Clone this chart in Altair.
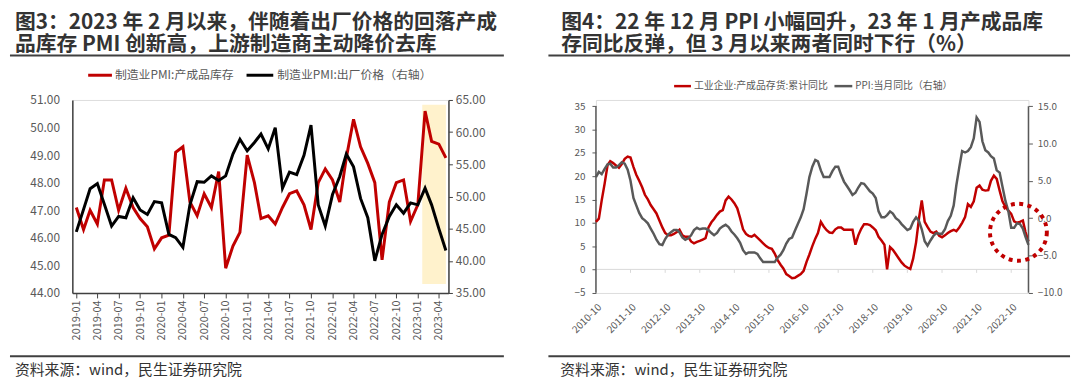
import altair as alt
import pandas as pd

FONT = "Noto Sans CJK SC"
RED = "#C00000"
LBL = "#595959"
DARK = "#333333"
AXC = "#404040"

# ---------------- Figure 3 data (monthly 2019-01 .. 2023-05) ----------------
left_dates = pd.date_range("2019-01-01", periods=53, freq="MS").strftime("%Y-%m-%dT00:00:00").tolist()
pmi_inventory = [47.1, 46.3, 47.0, 46.5, 48.1, 48.1, 47.0, 47.8, 47.1, 46.7, 46.4, 45.6,
                 46.0, 46.1, 49.1, 49.3, 47.3, 46.8, 47.6, 47.1, 48.4, 44.9, 45.7, 46.2,
                 49.0, 48.0, 46.7, 46.8, 46.5, 47.1, 47.6, 47.7, 47.2, 46.3, 48.0, 48.5,
                 48.1, 47.3, 48.9, 50.3, 49.3, 48.7, 48.0, 45.2, 47.3, 48.0, 48.1, 46.6,
                 47.2, 50.6, 49.5, 49.4, 48.9]
pmi_price = [44.5, 48.0, 51.2, 52.0, 48.8, 45.4, 46.9, 46.7, 49.8, 47.9, 47.2, 49.2,
             49.0, 44.1, 43.6, 42.1, 48.7, 52.3, 52.2, 53.2, 52.5, 53.2, 56.6, 58.9,
             57.1, 58.4, 59.7, 57.4, 60.7, 51.3, 53.8, 53.4, 56.4, 61.1, 48.7, 45.4,
             50.3, 53.1, 56.6, 54.6, 49.7, 46.7, 40.0, 44.1, 46.9, 48.7, 47.4, 49.0,
             48.7, 51.3, 48.7, 45.0, 41.6]
left_ticks = ["2019-01", "2019-04", "2019-07", "2019-10", "2020-01", "2020-04", "2020-07",
              "2020-10", "2021-01", "2021-04", "2021-07", "2021-10", "2022-01", "2022-04",
              "2022-07", "2022-10", "2023-01", "2023-04"]
shade_start = ["2023-01-20T00:00:00"]
shade_end = ["2023-05-01T00:00:00"]
shade_top = [50.83]
shade_bottom = [44.33]
left_y_vals = [44, 45, 46, 47, 48, 49, 50, 51]
right_y_vals = [35, 40, 45, 50, 55, 60, 65]

# ---------------- Figure 4 data (monthly 2010-10 .. 2023-04) ----------------
right_dates = pd.date_range("2010-10-01", periods=151, freq="MS").strftime("%Y-%m-%dT00:00:00").tolist()
inventory_yoy = [10.2, 10.9, 14.8,
                 18.4, 22.4, 23.2, 22.8, 22.3, 21.8, 22.6, 23.7, 24.2, 24.0, 22.0, 20.3,
                 19.0, 17.6, 16.0, 15.0, 13.8, 12.9, 12.0, 10.5, 9.0, 7.8, 7.3, 7.3,
                 7.6, 8.0, 8.5, 7.3, 7.0, 7.0, 6.0, 5.6, 5.9, 6.1, 6.4, 6.7,
                 9.0, 10.1, 10.8, 11.7, 12.4, 12.7, 14.8, 15.6, 15.0, 14.2, 13.1, 11.0,
                 8.6, 7.6, 7.2, 7.0, 7.4, 6.8, 6.2, 5.6, 5.0, 4.6, 4.4, 3.4,
                 2.0, 1.0, 0.2, -1.0, -1.4, -1.9, -1.8, -1.4, -1.0, -0.3, 1.6, 3.2,
                 5.0, 6.6, 7.8, 10.2, 9.2, 8.4, 7.9, 7.8, 8.6, 9.0, 9.0, 8.5,
                 8.5, 8.5, 8.5, 5.3, 7.3, 8.7, 9.7, 9.7, 9.5, 9.0, 8.4, 7.0,
                 6.2, 5.3, 0.0, 4.8, 4.2, 3.3, 2.4, 1.5, 0.8, 0.4, 0.1, 2.3,
                 5.8, 11.0, 14.8, 10.2, 9.1, 8.1, 7.8, 8.1, 7.2, 6.9, 7.3, 7.8,
                 8.2, 8.5, 8.2, 9.0, 10.0, 11.2, 14.0, 13.4, 14.6, 17.5, 18.0, 17.1,
                 16.9, 17.0, 19.0, 20.1, 19.4, 16.9, 14.6, 13.4, 12.6, 11.9, 10.3, 10.0,
                 10.2, 10.5, 8.0, 6.0]
ppi_yoy = [5.5, 6.2, 5.9,
           6.6, 7.2, 7.3, 6.8, 6.8, 7.1, 7.5, 7.3, 6.5, 5.0, 2.7, 1.7,
           0.7, 0.0, -0.3, -0.7, -1.4, -2.1, -2.9, -3.5, -3.6, -2.8, -2.2, -1.9,
           -1.6, -1.6, -1.9, -2.6, -2.9, -2.7, -2.3, -1.6, -1.3, -1.5, -1.4, -1.4,
           -1.6, -2.0, -2.3, -2.0, -1.4, -1.1, -0.9, -1.2, -1.8, -2.2, -2.7, -3.3,
           -4.3, -4.8, -4.6, -4.6, -4.6, -4.8, -5.4, -5.9, -5.9, -5.9, -5.9, -5.9,
           -5.3, -4.9, -4.3, -3.4, -2.8, -2.6, -1.7, -0.8, 0.1, 1.2, 3.3, 5.5,
           6.9, 7.8, 7.6, 6.4, 5.5, 5.5, 5.5, 6.3, 6.9, 6.9, 5.8, 4.9,
           4.3, 3.7, 3.1, 3.4, 4.1, 4.7, 4.6, 4.1, 3.6, 3.3, 2.7, 0.9,
           0.1, 0.1, 0.4, 0.9, 0.6, 0.0, -0.3, -0.8, -1.2, -1.6, -1.4, -0.5,
           0.1, -0.4, -1.5, -3.1, -3.7, -3.0, -2.4, -2.0, -2.1, -2.1, -1.5, -0.4,
           0.3, 1.7, 4.4, 6.8, 9.0, 8.8, 9.0, 9.5, 10.7, 13.5, 12.9, 10.3,
           9.1, 8.8, 8.3, 8.0, 6.4, 6.1, 4.2, 2.3, 0.9, -1.3, -1.3, -0.7,
           -0.8, -1.4, -2.5, -3.6]
right_ticks = ["2010-10", "2011-10", "2012-10", "2013-10", "2014-10", "2015-10", "2016-10",
               "2017-10", "2018-10", "2019-10", "2020-10", "2021-10", "2022-10"]
r_left_vals = [-5, 0, 5, 10, 15, 20, 25, 30, 35]
r_right_vals = [-10, -5, 0, 5, 10, 15]
circle_date = ["2022-12-16T00:00:00"]
circle_val = [-1.9]

title3 = ["图3：2023 年 2 月以来，伴随着出厂价格的回落产成", "品库存 PMI 创新高，上游制造商主动降价去库"]
title4 = ["图4：22 年 12 月 PPI 小幅回升，23 年 1 月产成品库", "存同比反弹，但 3 月以来两者同时下行（%）"]
legend3 = ["制造业PMI:产成品库存", "制造业PMI:出厂价格（右轴）"]
legend4 = ["工业企业:产成品存货:累计同比", "PPI:当月同比（右轴）"]
source = "资料来源：wind，民生证券研究院"


def dt(s):
    return alt.DateTime(year=int(s[:4]), month=int(s[5:7]), date=1)


def text_mark(txt, x, y, size, color, weight="normal", baseline="alphabetic"):
    return alt.Chart(pd.DataFrame({"t": [txt]})).mark_text(
        align="left", baseline=baseline, fontSize=size, font=FONT,
        fontWeight=weight, color=color
    ).encode(x=alt.value(x), y=alt.value(y), text="t:N")


def hrule(x1, x2, y, color, width):
    return alt.Chart(pd.DataFrame({"k": [0]})).mark_rule(
        color=color, strokeWidth=width
    ).encode(x=alt.value(x1), x2=alt.value(x2), y=alt.value(y))


# ======================= LEFT PANEL =======================
W1, H = 380, 195
dl = pd.DataFrame({"date": left_dates, "inv": pmi_inventory, "price": pmi_price})

xl_scale = alt.Scale(domain=[alt.DateTime(year=2018, month=12, date=15),
                             alt.DateTime(year=2023, month=5, date=12)])
xl_axis = alt.Axis(values=[dt(s) for s in left_ticks], format="%Y-%m", labelAngle=270,
                   labelAlign="right", labelBaseline="middle", labelFontSize=11,
                   labelColor=LBL, labelFont=FONT, tickSize=5, tickColor=AXC,
                   domainColor=AXC, domainWidth=1.5, labelPadding=2, grid=False,
                   title=None, labelOverlap=False)
yl_scale = alt.Scale(domain=[44, 51], nice=False, zero=False)
yl_axis = alt.Axis(values=left_y_vals, format=".2f", orient="left", ticks=False,
                   labelPadding=13, labelFontSize=12, labelColor=LBL, labelFont=FONT,
                   domainColor=AXC, domainWidth=1.5, grid=False, title=None)
yr_scale = alt.Scale(domain=[35, 65], nice=False, zero=False)
yr_axis = alt.Axis(values=right_y_vals, format=".2f", orient="right", tickSize=4,
                   tickColor=AXC, labelPadding=3, labelFontSize=12, labelColor=LBL,
                   labelFont=FONT, domainColor=AXC, domainWidth=1.5, grid=False, title=None)

shade = alt.Chart(pd.DataFrame({"start": shade_start, "end": shade_end,
                                "top": shade_top, "bottom": shade_bottom})).mark_rect(
    color="#FFF2CC").encode(
    x=alt.X("start:T", scale=xl_scale, axis=xl_axis), x2="end:T",
    y=alt.Y("top:Q", scale=yl_scale, axis=yl_axis), y2="bottom:Q")

red_l = alt.Chart(dl).mark_line(color=RED, strokeWidth=3).encode(
    x=alt.X("date:T", scale=xl_scale, axis=xl_axis),
    y=alt.Y("inv:Q", scale=yl_scale, axis=yl_axis))

black_l = alt.Chart(dl).mark_line(color="#000000", strokeWidth=3).encode(
    x=alt.X("date:T", scale=xl_scale, axis=xl_axis),
    y=alt.Y("price:Q", scale=yr_scale, axis=yr_axis))

leg_red_l = alt.Chart(pd.DataFrame({"k": [0]})).mark_rule(color=RED, strokeWidth=3).encode(
    x=alt.value(16), x2=alt.value(40), y=alt.value(-25))
leg_blk_l = alt.Chart(pd.DataFrame({"k": [0]})).mark_rule(color="#000000", strokeWidth=3).encode(
    x=alt.value(176), x2=alt.value(203), y=alt.value(-25))

decor_l = alt.layer(
    hrule(-64, -63, -90, "#FFFFFF", 1),
    text_mark(title3[0], -58, -72, 21, DARK, "bold"),
    text_mark(title3[1], -58, -49, 21, DARK, "bold"),
    hrule(-63, 436, -45, AXC, 2),
    leg_red_l,
    text_mark(legend3[0], 43, -25, 12, LBL, baseline="middle"),
    leg_blk_l,
    text_mark(legend3[1], 207, -25, 12, LBL, baseline="middle"),
    hrule(-63, 436, 259, AXC, 2),
    text_mark(source, -58, 278, 15, DARK),
)

left = alt.layer(alt.layer(shade, red_l), black_l, decor_l).resolve_scale(
    y="independent").properties(width=W1, height=H)

# ======================= RIGHT PANEL =======================
W2 = 437
dr = pd.DataFrame({"date": right_dates, "inv": inventory_yoy, "ppi": ppi_yoy})

xr_scale = alt.Scale(domain=[alt.DateTime(year=2010, month=10, date=1),
                             alt.DateTime(year=2023, month=4, date=1)])
xr_axis = alt.Axis(values=[dt(s) for s in right_ticks], format="%Y-%m", labelAngle=315,
                   labelAlign="right", labelBaseline="top", labelFontSize=10,
                   labelColor=LBL, labelFont=FONT, domain=False, ticks=False,
                   labelPadding=9, grid=False, title=None, labelOverlap=False)
rl_scale = alt.Scale(domain=[-5.06, 36.34], nice=False, zero=False)
rl_axis = alt.Axis(values=r_left_vals, format="d", orient="left", domain=False,
                   tickSize=4, tickColor=LBL, labelPadding=7, labelFontSize=10,
                   labelColor=LBL, labelFont=FONT, grid=False, title=None)
rr_scale = alt.Scale(domain=[-10.04, 15.84], nice=False, zero=False)
rr_axis = alt.Axis(values=r_right_vals, format=".1f", orient="right", domain=False,
                   tickSize=4, tickColor=LBL, labelPadding=5, labelFontSize=10,
                   labelColor=LBL, labelFont=FONT, grid=False, title=None)

one = pd.DataFrame({"k": [0]})
zero_line = alt.Chart(one).mark_rule(color="#D9D9D9", strokeWidth=1).encode(
    x=alt.value(0), x2=alt.value(W2),
    y=alt.YDatum(0, scale=rl_scale, axis=rl_axis))
year_ticks = alt.Chart(pd.DataFrame({"date": [s + "-01T00:00:00" for s in right_ticks[1:]]})).mark_rule(
    color="#D9D9D9", strokeWidth=1).encode(
    x=alt.X("date:T", scale=xr_scale, axis=xr_axis),
    y=alt.YDatum(0, scale=rl_scale, axis=rl_axis), y2=alt.Y2Datum(-0.75))
left_axis_line = alt.Chart(one).mark_rule(color=LBL, strokeWidth=1.5).encode(
    x=alt.value(0), y=alt.YDatum(35, scale=rl_scale, axis=rl_axis), y2=alt.Y2Datum(-5))
red_r = alt.Chart(dr).mark_line(color=RED, strokeWidth=2.5).encode(
    x=alt.X("date:T", scale=xr_scale, axis=xr_axis),
    y=alt.Y("inv:Q", scale=rl_scale, axis=rl_axis))

right_axis_line = alt.Chart(one).mark_rule(color=LBL, strokeWidth=1.5).encode(
    x=alt.value(W2), y=alt.YDatum(15, scale=rr_scale, axis=rr_axis), y2=alt.Y2Datum(-10))
gray_r = alt.Chart(dr).mark_line(color="#595959", strokeWidth=2.5).encode(
    x=alt.X("date:T", scale=xr_scale, axis=xr_axis),
    y=alt.Y("ppi:Q", scale=rr_scale, axis=rr_axis))
circle = alt.Chart(pd.DataFrame({"date": circle_date, "v": circle_val})).mark_point(
    shape="circle", size=3300, filled=False, stroke=RED, strokeWidth=4,
    strokeDash=[4, 4.5], opacity=1).encode(
    x=alt.X("date:T", scale=xr_scale, axis=xr_axis),
    y=alt.Y("v:Q", scale=rr_scale, axis=rr_axis))

leg_red_r = alt.Chart(one).mark_rule(color=RED, strokeWidth=2.5).encode(
    x=alt.value(79), x2=alt.value(96), y=alt.value(-14))
leg_gray_r = alt.Chart(one).mark_rule(color="#595959", strokeWidth=2.5).encode(
    x=alt.value(241), x2=alt.value(259), y=alt.value(-14))

decor_r = alt.layer(
    text_mark(title4[0], -35, -72, 21, DARK, "bold"),
    text_mark(title4[1], -35, -49, 21, DARK, "bold"),
    hrule(-48, 479, -45, AXC, 2),
    leg_red_r,
    text_mark(legend4[0], 99, -14, 10, LBL, baseline="middle"),
    leg_gray_r,
    text_mark(legend4[1], 262, -14, 10, LBL, baseline="middle"),
    hrule(-48, 479, 259, AXC, 2),
    text_mark(source, -36, 278, 15, DARK),
)

right = alt.layer(
    alt.layer(zero_line, year_ticks, left_axis_line, red_r),
    alt.layer(right_axis_line, gray_r, circle),
    decor_r,
).resolve_scale(y="independent").properties(width=W2, height=H)

chart = alt.hconcat(left, right, spacing=149, bounds="flush").properties(
    padding=0, background="white"
).configure_view(stroke=None).configure(font=FONT)

chart.save("out.html", embed_options={"renderer": "svg", "actions": False})
